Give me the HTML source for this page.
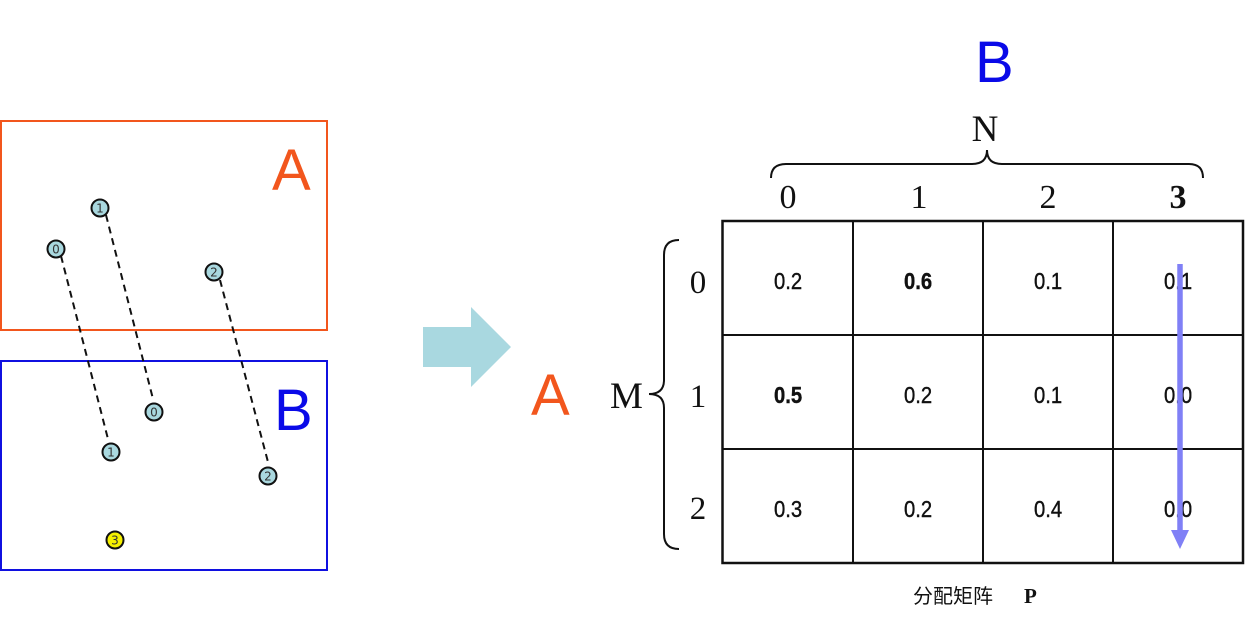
<!DOCTYPE html>
<html>
<head>
<meta charset="utf-8">
<style>
  html, body { margin: 0; padding: 0; background: #ffffff; }
  body { width: 1246px; height: 626px; overflow: hidden; }
  svg { display: block; }
</style>
</head>
<body>
<svg width="1246" height="626" viewBox="0 0 1246 626" xmlns="http://www.w3.org/2000/svg">
  <rect x="0" y="0" width="1246" height="626" fill="#ffffff"/>

  <!-- Box A -->
  <rect x="1" y="121" width="326" height="209" fill="none" stroke="#f2561d" stroke-width="2"/>
  <text x="272" y="190" font-family="Liberation Sans, sans-serif" font-size="58" fill="#f2561d">A</text>

  <!-- Box B -->
  <rect x="1" y="361" width="326" height="209" fill="none" stroke="#1010e0" stroke-width="2"/>
  <text x="274" y="430" font-family="Liberation Sans, sans-serif" font-size="58" fill="#0a0ae8">B</text>

  <!-- dashed connectors -->
  <g stroke="#111" stroke-width="2" stroke-dasharray="7,5" fill="none">
    <line x1="61" y1="256" x2="108" y2="439"/>
    <line x1="106" y1="215" x2="153" y2="399"/>
    <line x1="220" y1="280" x2="268" y2="462"/>
  </g>

  <!-- points -->
  <g font-family="DejaVu Sans, Liberation Sans, sans-serif" font-size="12" text-anchor="middle" fill="#333">
    <circle cx="100" cy="208" r="8.5" fill="#a9d8df" stroke="#111" stroke-width="2"/>
    <text x="100" y="212.5">1</text>
    <circle cx="56" cy="249" r="8.5" fill="#a9d8df" stroke="#111" stroke-width="2"/>
    <text x="56" y="253.5">0</text>
    <circle cx="214" cy="272" r="8.5" fill="#a9d8df" stroke="#111" stroke-width="2"/>
    <text x="214" y="276.5">2</text>
    <circle cx="154" cy="412" r="8.5" fill="#a9d8df" stroke="#111" stroke-width="2"/>
    <text x="154" y="416.5">0</text>
    <circle cx="111" cy="452" r="8.5" fill="#a9d8df" stroke="#111" stroke-width="2"/>
    <text x="111" y="456.5">1</text>
    <circle cx="268" cy="476" r="8.5" fill="#a9d8df" stroke="#111" stroke-width="2"/>
    <text x="268" y="480.5">2</text>
    <circle cx="115" cy="540" r="8.5" fill="#f5f000" stroke="#111" stroke-width="2"/>
    <text x="115" y="544.5">3</text>
  </g>

  <!-- big arrow -->
  <polygon points="423,327 471,327 471,307 511,347 471,387 471,367 423,367" fill="#a9d8e0"/>

  <!-- middle A -->
  <text x="531" y="415" font-family="Liberation Sans, sans-serif" font-size="58" fill="#f2561d">A</text>

  <!-- top B -->
  <text x="975" y="82" font-family="Liberation Sans, sans-serif" font-size="58" fill="#0a0ae8">B</text>

  <!-- N and brace -->
  <text x="985" y="141" font-family="Liberation Serif, serif" font-size="37" text-anchor="middle" fill="#111">N</text>
  <path d="M771,178 Q771,164 786,164 L972,164 Q987,164 987,150 Q987,164 1002,164 L1189,164 Q1203,164 1203,178" fill="none" stroke="#111" stroke-width="2"/>

  <!-- column headers -->
  <g font-family="Liberation Serif, serif" font-size="34" text-anchor="middle" fill="#111">
    <text x="788" y="208">0</text>
    <text x="919" y="208">1</text>
    <text x="1048" y="208">2</text>
    <text x="1178" y="208" font-weight="bold">3</text>
  </g>

  <!-- M and left brace -->
  <text x="610" y="408" font-family="Liberation Serif, serif" font-size="37" fill="#111">M</text>
  <path d="M679,240 Q664,240 664,255 L664,380 Q664,394 649,394 Q664,394 664,408 L664,534 Q664,549 679,549" fill="none" stroke="#111" stroke-width="2"/>

  <!-- row labels -->
  <g font-family="Liberation Serif, serif" font-size="33" text-anchor="middle" fill="#111">
    <text x="698" y="293">0</text>
    <text x="698" y="407">1</text>
    <text x="698" y="519">2</text>
  </g>

  <!-- table -->
  <g stroke="#111" stroke-width="2" fill="none">
    <rect x="722.5" y="221" width="520.5" height="342" stroke-width="2.5"/>
    <line x1="853" y1="221" x2="853" y2="563"/>
    <line x1="983" y1="221" x2="983" y2="563"/>
    <line x1="1113" y1="221" x2="1113" y2="563"/>
    <line x1="722" y1="335" x2="1243" y2="335"/>
    <line x1="722" y1="449" x2="1243" y2="449"/>
  </g>

  <!-- cell values -->
  <g font-family="Liberation Sans, sans-serif" font-size="23" text-anchor="middle" fill="#111" stroke="#111" stroke-width="0.4">
    <text transform="translate(788,289) scale(0.88,1)">0.2</text>
    <text transform="translate(918,289) scale(0.88,1)" font-weight="bold">0.6</text>
    <text transform="translate(1048,289) scale(0.88,1)">0.1</text>
    <text transform="translate(1178,289) scale(0.88,1)">0.1</text>

    <text transform="translate(788,403) scale(0.88,1)" font-weight="bold">0.5</text>
    <text transform="translate(918,403) scale(0.88,1)">0.2</text>
    <text transform="translate(1048,403) scale(0.88,1)">0.1</text>
    <text transform="translate(1178,403) scale(0.88,1)">0.0</text>

    <text transform="translate(788,517) scale(0.88,1)">0.3</text>
    <text transform="translate(918,517) scale(0.88,1)">0.2</text>
    <text transform="translate(1048,517) scale(0.88,1)">0.4</text>
    <text transform="translate(1178,517) scale(0.88,1)">0.0</text>
  </g>

  <!-- purple arrow -->
  <line x1="1180" y1="264" x2="1180" y2="532" stroke="#8080f6" stroke-width="5.5"/>
  <polygon points="1171,530 1189,530 1180,549" fill="#8080f6"/>

  <!-- caption -->
  <text x="913" y="603" font-family="Liberation Sans, 'Noto Sans CJK SC', sans-serif" font-size="20" fill="#111">分配矩阵</text>
  <text x="1024" y="603" font-family="Liberation Serif, serif" font-size="21" font-weight="bold" fill="#111">P</text>
</svg>
</body>
</html>
